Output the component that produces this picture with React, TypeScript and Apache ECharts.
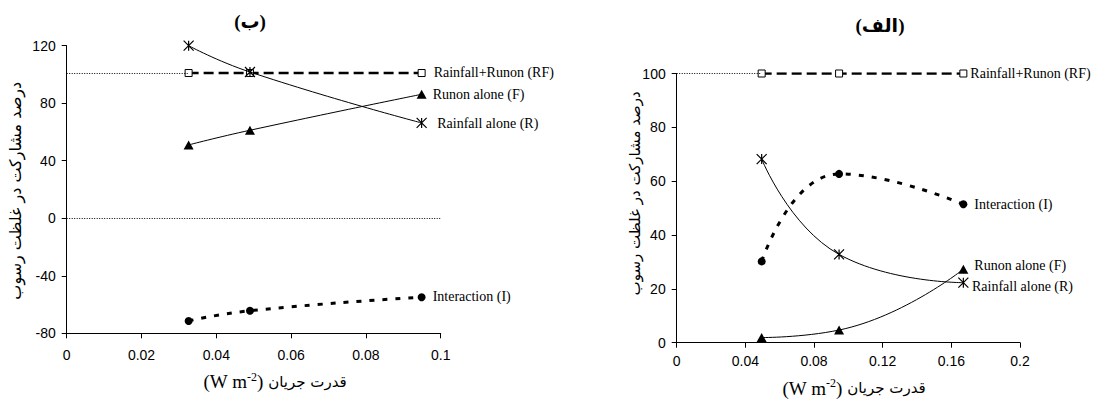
import React, { useEffect, useRef } from "react";
import * as echarts from "echarts";

// ---------- data ----------
const seriesNames = ["Rainfall+Runon (RF)", "Runon alone (F)", "Rainfall alone (R)", "Interaction (I)"];

// panel (ب) – left
const xLeft = [0.0326, 0.049, 0.0949];
const rfLeft = [101, 101, 101];
const fLeft = [51, 61.2, 86.2];
const rLeft = [120, 101.7, 66.3];
const iLeft = [-71.4, -64.3, -54.9];

// panel (الف) – right
const xRight = [0.0495, 0.0946, 0.167];
const rfRight = [100, 100, 100];
const fRight = [1.9, 4.7, 27.3];
const rRight = [68.2, 32.8, 22.3];
const iRight = [30.2, 62.7, 51.4];

const panelTitles = ["(ب)", "(الف)"];
const yTitle = "درصد مشارکت در غلظت رسوب";
const xTitleFa = "قدرت جریان";

const ASTERISK = "path://M5,0L5,10M0,0L10,10M0,10L10,0";
const SERIF = "Liberation Serif";
const SANS = "Liberation Sans";
const ARABIC = "DejaVu Sans";

function mkData(xs: number[], ys: number[], name: string, lbl: any) {
  return xs.map((x, i) =>
    i === xs.length - 1
      ? {
          value: [x, ys[i]],
          label: {
            show: true,
            position: "right",
            formatter: name,
            color: "#000",
            fontFamily: SERIF,
            fontSize: 14,
            ...lbl,
          },
        }
      : [x, ys[i]]
  );
}

function panelSeries(
  idx: number,
  xs: number[],
  rf: number[],
  f: number[],
  r: number[],
  it: number[],
  lbls: any[],
  extraMarkLines: any[]
) {
  const base = { type: "line", xAxisIndex: idx, yAxisIndex: idx, silent: true, label: { show: false } };
  return [
    {
      ...base,
      name: seriesNames[0],
      data: mkData(xs, rf, seriesNames[0], lbls[0]),
      symbol: "rect",
      symbolSize: 7,
      itemStyle: { color: "#fff", borderColor: "#000", borderWidth: 1 },
      lineStyle: { color: "#000", width: 2.4, type: [10, 5] },
      z: 3,
      markLine: {
        silent: true,
        symbol: ["none", "none"],
        label: { show: false },
        lineStyle: { color: "#000", width: 1, type: [1, 1.5] },
        data: [[{ coord: [0, rf[0]] }, { coord: [xs[0], rf[0]] }], ...extraMarkLines],
      },
    },
    {
      ...base,
      name: seriesNames[1],
      data: mkData(xs, f, seriesNames[1], lbls[1]),
      symbol: "triangle",
      symbolSize: [10, 9],
      smooth: 0.5,
      itemStyle: { color: "#000", borderColor: "#000", borderWidth: 0 },
      lineStyle: { color: "#000", width: 1 },
      z: 4,
    },
    {
      ...base,
      name: seriesNames[2],
      data: mkData(xs, r, seriesNames[2], lbls[2]),
      symbol: ASTERISK,
      symbolSize: 10,
      smooth: 0.5,
      itemStyle: { color: "#000", borderColor: "#000", borderWidth: 1.2 },
      lineStyle: { color: "#000", width: 1 },
      z: 5,
    },
    {
      ...base,
      name: seriesNames[3],
      data: mkData(xs, it, seriesNames[3], lbls[3]),
      symbol: "circle",
      symbolSize: 8,
      smooth: 0.5,
      itemStyle: { color: "#000", borderColor: "#000", borderWidth: 0 },
      lineStyle: { color: "#000", width: 3, type: [5, 8] },
      z: 4,
    },
  ];
}

const fmtTick = (v: number) => String(parseFloat(v.toFixed(3)));

function axisCommon() {
  return {
    axisLine: { show: true, onZero: false, lineStyle: { color: "#000", width: 1 } },
    axisTick: { show: true, inside: false, length: 5, lineStyle: { color: "#000", width: 1 } },
    splitLine: { show: false },
  };
}

function xTitle(x: number, y: number) {
  return {
    type: "text",
    x,
    y,
    silent: true,
    style: {
      text: "{a|(W m}{s|-2}{a|)}{b| " + xTitleFa + "}",
      align: "center",
      verticalAlign: "middle",
      textAlign: "center",
      textVerticalAlign: "middle",
      rich: {
        a: { fontFamily: SERIF, fontSize: 19, fill: "#000", color: "#000" },
        s: { fontFamily: SERIF, fontSize: 12, fill: "#000", color: "#000", padding: [0, 0, 10, 0] },
        b: { fontFamily: ARABIC, fontSize: 15, fill: "#000", color: "#000" },
      },
    },
  };
}

function textEl(text: string, x: number, y: number, opts: any, rotation = 0) {
  return {
    type: "text",
    x,
    y,
    rotation,
    silent: true,
    style: {
      text,
      align: "center",
      verticalAlign: "middle",
      textAlign: "center",
      textVerticalAlign: "middle",
      fill: "#000",
      ...opts,
    },
  };
}

export default function App() {
  const ref = useRef<HTMLDivElement>(null);
  useEffect(() => {
    if (!ref.current) return;
    const chart = echarts.init(ref.current, undefined, { renderer: "svg" });
    const labelStyle = { color: "#000", fontFamily: SANS, fontSize: 14 };
    const titleFont = { fontFamily: "Liberation Serif, DejaVu Sans", fontSize: 19, fontWeight: "bold" };
    chart.setOption({
      animation: false,
      backgroundColor: "#fff",
      grid: [
        { left: 66.7, top: 45.7, width: 374, height: 287.6 },
        { left: 676.7, top: 73.5, width: 343.3, height: 269.2 },
      ],
      xAxis: [
        {
          type: "value",
          gridIndex: 0,
          min: 0,
          max: 0.1,
          interval: 0.02,
          ...axisCommon(),
          axisLabel: { ...labelStyle, margin: 15, formatter: fmtTick },
        },
        {
          type: "value",
          gridIndex: 1,
          min: 0,
          max: 0.2,
          interval: 0.04,
          ...axisCommon(),
          axisLabel: { ...labelStyle, margin: 11, formatter: fmtTick },
        },
      ],
      yAxis: [
        {
          type: "value",
          gridIndex: 0,
          min: -80,
          max: 120,
          interval: 40,
          ...axisCommon(),
          axisLabel: { ...labelStyle, margin: 11 },
        },
        {
          type: "value",
          gridIndex: 1,
          min: 0,
          max: 100,
          interval: 20,
          ...axisCommon(),
          axisLabel: { ...labelStyle, margin: 11 },
        },
      ],
      series: [
        ...panelSeries(
          0,
          xLeft,
          rfLeft,
          fLeft,
          rLeft,
          iLeft,
          [
            { distance: 8, offset: [0, -1] },
            { distance: 6 },
            { distance: 10, offset: [0, 1] },
            { distance: 7, offset: [0, -1] },
          ],
          [{ yAxis: 0 }]
        ),
        ...panelSeries(
          1,
          xRight,
          rfRight,
          fRight,
          rRight,
          iRight,
          [
            { distance: 3 },
            { distance: 6, offset: [0, -4] },
            { distance: 3, offset: [0, 4] },
            { distance: 7 },
          ],
          []
        ),
      ],
      graphic: [
        textEl(panelTitles[0], 250, 21.7, titleFont),
        textEl(panelTitles[1], 880, 25, titleFont),
        textEl(yTitle, 15, 190.8, { fontFamily: ARABIC, fontSize: 16 }, Math.PI / 2),
        textEl(yTitle, 635, 193.3, { fontFamily: ARABIC, fontSize: 15 }, Math.PI / 2),
        xTitle(275, 381.7),
        xTitle(854, 388),
      ],
    });
    return () => chart.dispose();
  }, []);
  return (
    <div
      ref={ref}
      style={{ position: "fixed", left: 0, top: 0, width: 1101, height: 399, background: "#fff" }}
    />
  );
}
